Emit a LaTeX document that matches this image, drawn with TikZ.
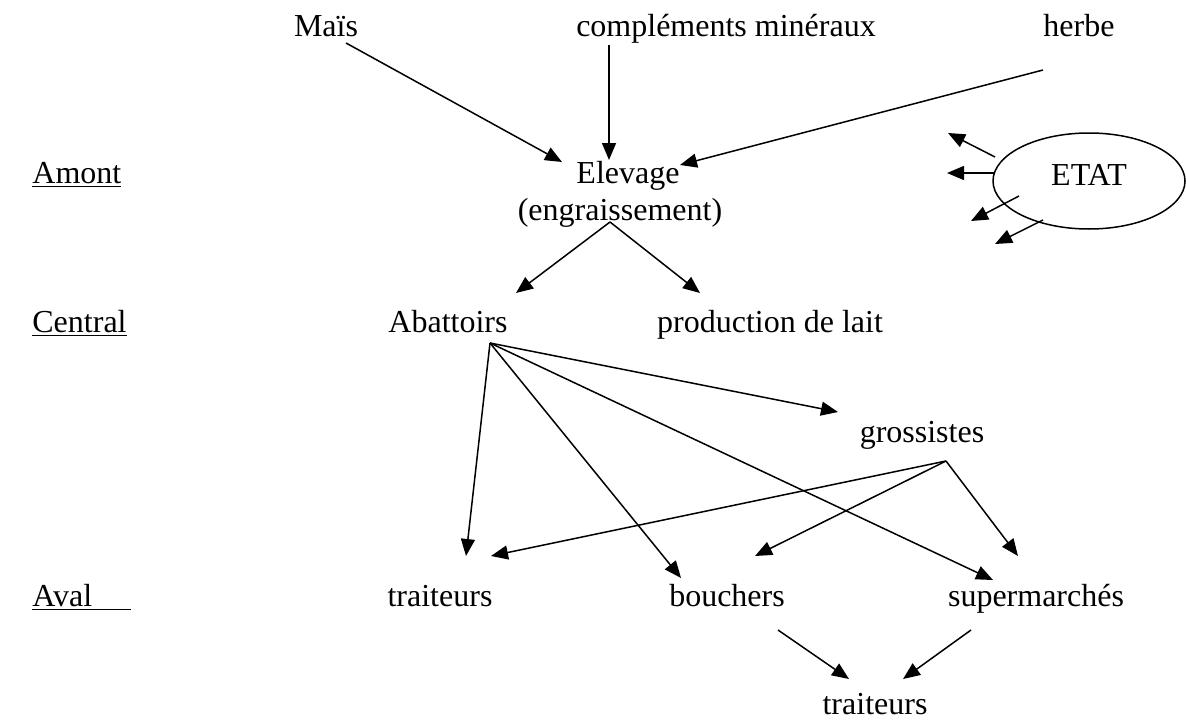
\documentclass[tikz,border=0pt]{standalone}
\usepackage{fontspec}
\setmainfont{Liberation Serif}
\usepackage{tikz}
\usetikzlibrary{arrows.meta,shapes.geometric}

\begin{document}
\begin{tikzpicture}[x=0.5pt,y=-0.5pt,
  every node/.style={anchor=base,inner sep=0pt,font=\fontsize{16}{19}\selectfont},
  arr/.style={-{Triangle[length=8.5pt,width=7pt]},line width=0.75pt}]
\useasboundingbox (0,0) rectangle (1186,722);
% levels
\node[anchor=base west] (amont) at (32,183) {\underline{Amont}};
\node[anchor=base west] (central) at (32,332) {\underline{Central}};
\node[anchor=base west] (aval) at (32,606) {\underline{Aval\hspace*{1.2em}}};
% inputs
\node (mais) at (326,37) {Maïs};
\node (compl) at (726,37) {compléments minéraux};
\node (herbe) at (1079,37) {herbe};
\node (elev) at (628,183) {Elevage};
\node (engr) at (620,220) {(engraissement)};
\node[draw,ellipse,anchor=center,line width=0.75pt,minimum width=96pt,minimum height=48pt,text depth=6pt] (etat) at (1089,181) {ETAT};
% central
\node (abat) at (448,332) {Abattoirs};
\node (lait) at (770,332) {production de lait};
\node (gross) at (922,442) {grossistes};
% aval
\node (trait) at (440,606) {traiteurs};
\node (bouch) at (727,606) {bouchers};
\node (super) at (1036,606) {supermarchés};
\node (trait2) at (875,714) {traiteurs};
% arrow ends
\coordinate (mais-o) at (346,43);
\coordinate (compl-o) at (609,45);
\coordinate (herbe-o) at (1043,70);
\coordinate (elev-a) at (562,162);
\coordinate (elev-b) at (609,160);
\coordinate (elev-c) at (680,165);
\coordinate (engr-o) at (610,222);
\coordinate (abat-i) at (516,293);
\coordinate (lait-i) at (700,293);
\coordinate (abat-o) at (490,343);
\coordinate (gross-i) at (838,412);
\coordinate (gross-o) at (946,461);
\coordinate (trait-a) at (466,556);
\coordinate (trait-b) at (491,556);
\coordinate (bouch-a) at (681,578);
\coordinate (bouch-b) at (755,556);
\coordinate (super-a) at (993,580);
\coordinate (super-b) at (1018,556);
\coordinate (bouch-o) at (778,630);
\coordinate (super-o) at (971,630);
\coordinate (trait2-a) at (849,679);
\coordinate (trait2-b) at (903,679);
\coordinate (etat-1) at (995,157);
\coordinate (etat-2) at (995,173);
\coordinate (etat-3) at (1019,196);
\coordinate (etat-4) at (1043,220);
\coordinate (etat-1e) at (948,133);
\coordinate (etat-2e) at (947,173);
\coordinate (etat-3e) at (971,221);
\coordinate (etat-4e) at (995,244);
% arrows
\draw[arr] (mais-o) -- (elev-a);
\draw[arr] (compl-o) -- (elev-b);
\draw[arr] (herbe-o) -- (elev-c);
\draw[arr] (engr-o) -- (abat-i);
\draw[arr] (engr-o) -- (lait-i);
\draw[arr] (abat-o) -- (trait-a);
\draw[arr] (abat-o) -- (bouch-a);
\draw[arr] (abat-o) -- (gross-i);
\draw[arr] (abat-o) -- (super-a);
\draw[arr] (gross-o) -- (trait-b);
\draw[arr] (gross-o) -- (bouch-b);
\draw[arr] (gross-o) -- (super-b);
\draw[arr] (bouch-o) -- (trait2-a);
\draw[arr] (super-o) -- (trait2-b);
\draw[arr] (etat-1) -- (etat-1e);
\draw[arr] (etat-2) -- (etat-2e);
\draw[arr] (etat-3) -- (etat-3e);
\draw[arr] (etat-4) -- (etat-4e);
\end{tikzpicture}
\end{document}
